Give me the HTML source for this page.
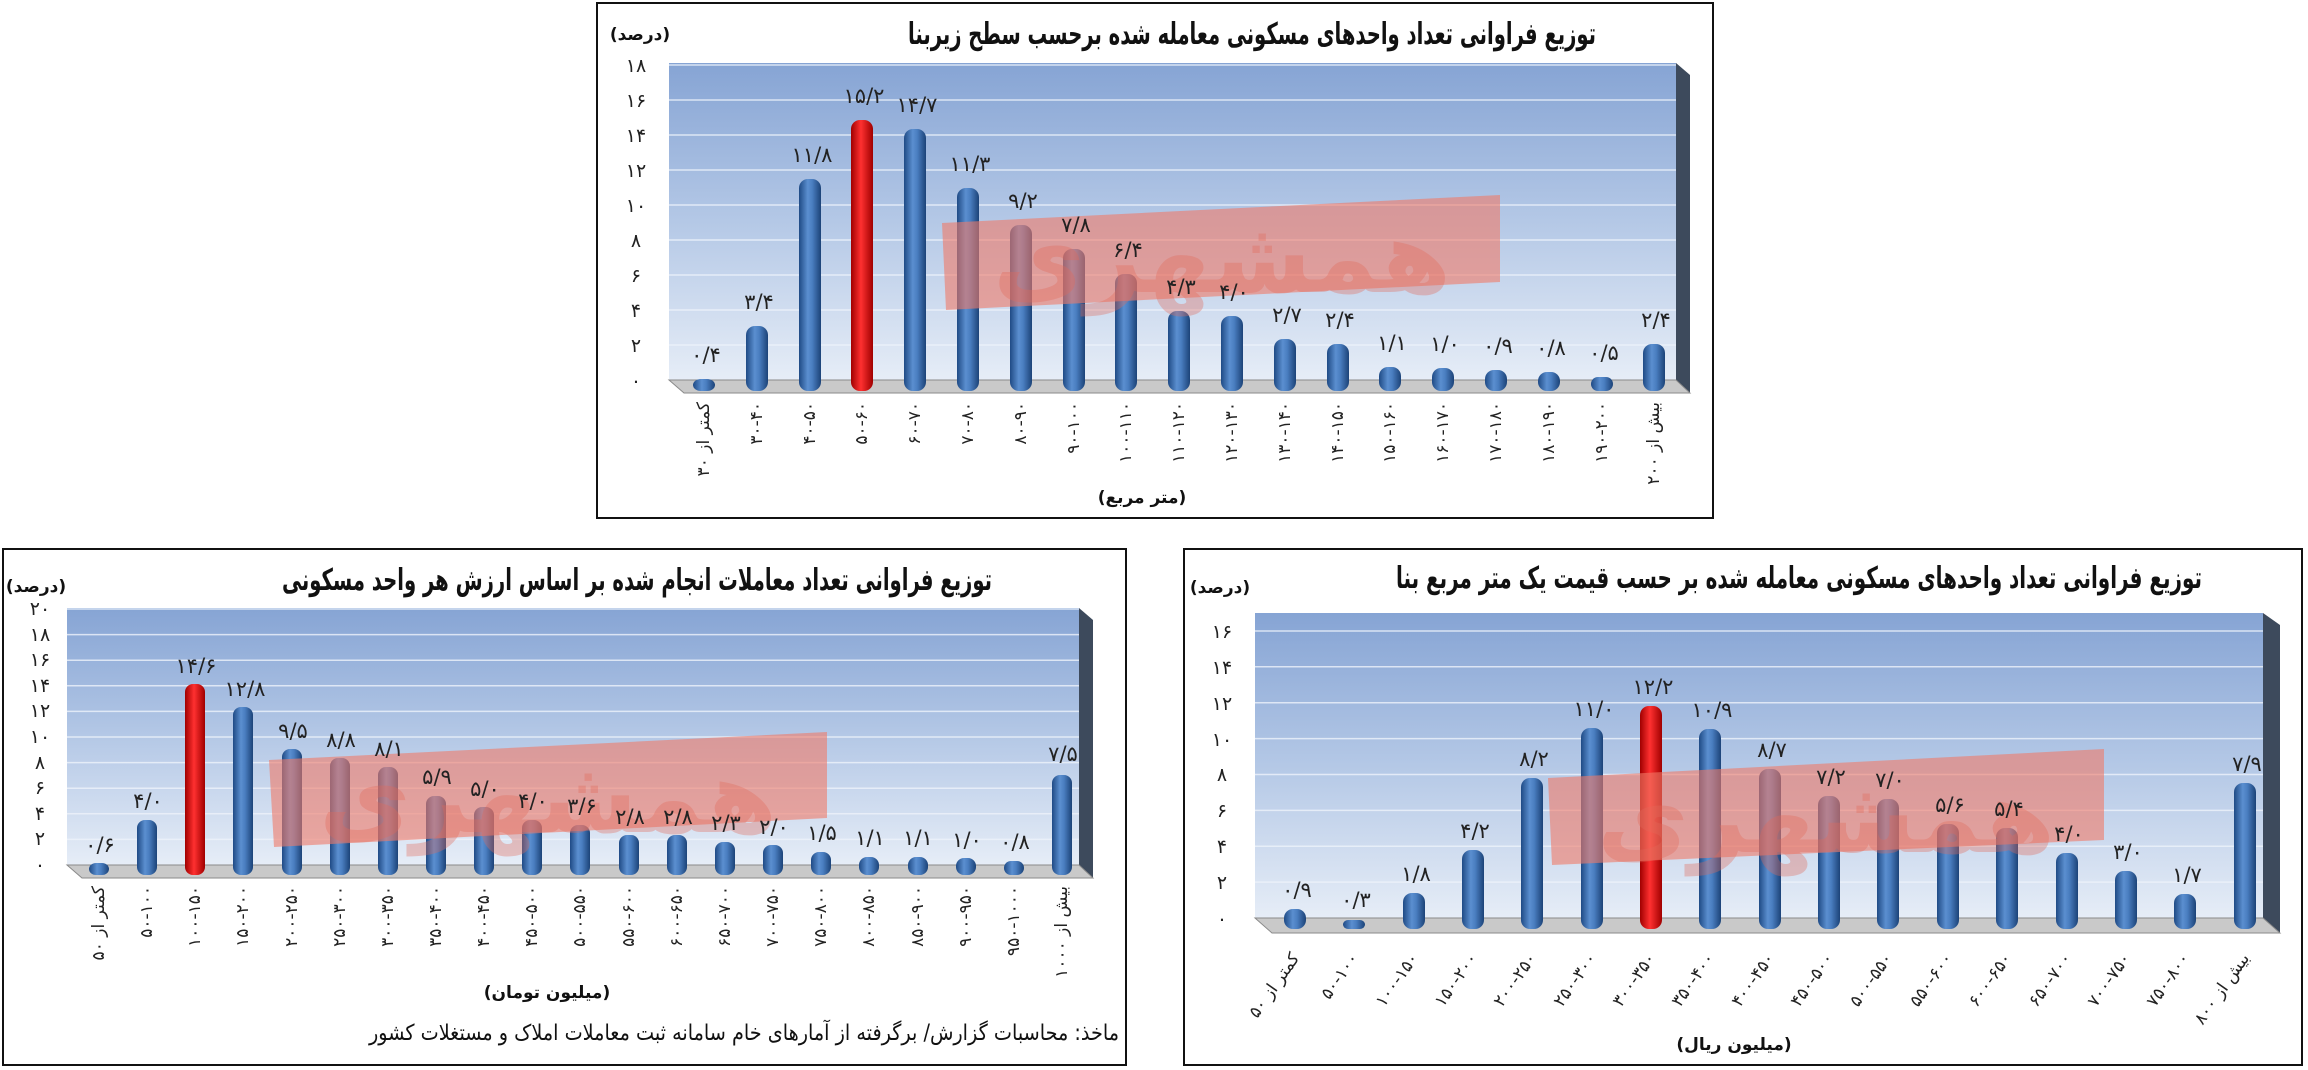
<!DOCTYPE html>
<html><head><meta charset="utf-8">
<style>
html,body{margin:0;padding:0;background:#fff;}
svg{display:block;font-family:"DejaVu Sans","Liberation Sans",sans-serif;}
.t{font-weight:bold;font-size:30px;fill:#111;}
.u{font-weight:bold;font-size:17px;fill:#111;}
.k{font-size:19px;fill:#222;}
.v{font-size:21px;fill:#222;}
.c{font-size:17px;fill:#222;}
</style></head>
<body>
<svg width="2308" height="1070" viewBox="0 0 2308 1070" xmlns="http://www.w3.org/2000/svg">
<defs>
<linearGradient id="bg" x1="0" y1="0" x2="0" y2="1">
<stop offset="0" stop-color="#86a4d4"/><stop offset="0.5" stop-color="#b4c8e6"/><stop offset="1" stop-color="#e6edf7"/>
</linearGradient>
<linearGradient id="bb" x1="0" y1="0" x2="1" y2="0">
<stop offset="0" stop-color="#1f4a85"/><stop offset="0.4" stop-color="#5b8fd0"/><stop offset="0.6" stop-color="#4a7ec0"/><stop offset="1" stop-color="#1c4378"/>
</linearGradient>
<linearGradient id="rb" x1="0" y1="0" x2="1" y2="0">
<stop offset="0" stop-color="#a00000"/><stop offset="0.45" stop-color="#ff3030"/><stop offset="1" stop-color="#a00000"/>
</linearGradient>
</defs>

<!-- ===== TOP CHART ===== -->
<rect x="597" y="3" width="1116" height="515" fill="#fff" stroke="#111" stroke-width="2"/>
<text class="t" x="1596" y="44" text-anchor="start" direction="rtl" textLength="688" lengthAdjust="spacingAndGlyphs">توزیع فراوانی تعداد واحدهای مسکونی معامله شده برحسب سطح زیربنا</text>
<text class="u" x="640" y="40" text-anchor="middle" direction="rtl">(درصد)</text>
<rect x="669" y="63" width="1007" height="317" fill="url(#bg)"/>
<polygon points="1676,63 1690,75 1690,393 1676,380" fill="#3d4a5c"/>
<polygon points="669,380 1676,380 1690,393 684,393" fill="#c9c9c9" stroke="#8a8a8a"/>
<g stroke="#eef3fb" stroke-width="1.5" opacity="0.8">
<line x1="669" y1="345" x2="1676" y2="345"/><line x1="669" y1="310" x2="1676" y2="310"/><line x1="669" y1="275" x2="1676" y2="275"/><line x1="669" y1="240" x2="1676" y2="240"/><line x1="669" y1="205" x2="1676" y2="205"/><line x1="669" y1="170" x2="1676" y2="170"/><line x1="669" y1="135" x2="1676" y2="135"/><line x1="669" y1="100" x2="1676" y2="100"/><line x1="669" y1="65" x2="1676" y2="65"/>
</g>
<g class="k" text-anchor="middle">
<text x="636" y="387">۰</text><text x="636" y="352">۲</text><text x="636" y="317">۴</text><text x="636" y="282">۶</text><text x="636" y="247">۸</text><text x="636" y="212">۱۰</text><text x="636" y="177">۱۲</text><text x="636" y="142">۱۴</text><text x="636" y="107">۱۶</text><text x="636" y="72">۱۸</text>
</g>
<g transform="translate(0,6)">
<rect x="693" y="373" width="22" height="12" rx="8" fill="url(#bb)"/>
<rect x="746" y="320" width="22" height="65" rx="9" fill="url(#bb)"/>
<rect x="799" y="173" width="22" height="212" rx="9" fill="url(#bb)"/>
<rect x="851" y="114" width="22" height="271" rx="9" fill="url(#rb)"/>
<rect x="904" y="123" width="22" height="262" rx="9" fill="url(#bb)"/>
<rect x="957" y="182" width="22" height="203" rx="9" fill="url(#bb)"/>
<rect x="1010" y="219" width="22" height="166" rx="9" fill="url(#bb)"/>
<rect x="1063" y="243" width="22" height="142" rx="9" fill="url(#bb)"/>
<rect x="1115" y="268" width="22" height="117" rx="9" fill="url(#bb)"/>
<rect x="1168" y="305" width="22" height="80" rx="9" fill="url(#bb)"/>
<rect x="1221" y="310" width="22" height="75" rx="9" fill="url(#bb)"/>
<rect x="1274" y="333" width="22" height="52" rx="9" fill="url(#bb)"/>
<rect x="1327" y="338" width="22" height="47" rx="9" fill="url(#bb)"/>
<rect x="1379" y="361" width="22" height="24" rx="9" fill="url(#bb)"/>
<rect x="1432" y="362" width="22" height="23" rx="9" fill="url(#bb)"/>
<rect x="1485" y="364" width="22" height="21" rx="9" fill="url(#bb)"/>
<rect x="1538" y="366" width="22" height="19" rx="9" fill="url(#bb)"/>
<rect x="1591" y="371" width="22" height="14" rx="7" fill="url(#bb)"/>
<rect x="1643" y="338" width="22" height="47" rx="9" fill="url(#bb)"/>
</g>
<polygon points="942,223 1500,195 1500,282 946,310" fill="#f07a68" opacity="0.6"/>
<text x="1222" y="292" font-size="100" font-weight="bold" fill="#e26a5a" opacity="0.35" text-anchor="middle" direction="rtl">همشهری</text>
<g class="v" text-anchor="middle">
<text x="706" y="362">۰/۴</text><text x="759" y="309">۳/۴</text><text x="812" y="162">۱۱/۸</text><text x="864" y="103">۱۵/۲</text><text x="917" y="112">۱۴/۷</text><text x="970" y="171">۱۱/۳</text><text x="1023" y="208">۹/۲</text><text x="1076" y="232">۷/۸</text><text x="1128" y="257">۶/۴</text><text x="1181" y="294">۴/۳</text><text x="1234" y="299">۴/۰</text><text x="1287" y="322">۲/۷</text><text x="1340" y="327">۲/۴</text><text x="1392" y="350">۱/۱</text><text x="1445" y="351">۱/۰</text><text x="1498" y="353">۰/۹</text><text x="1551" y="355">۰/۸</text><text x="1604" y="360">۰/۵</text><text x="1656" y="327">۲/۴</text>
</g>
<g class="c" direction="rtl" text-anchor="start" dominant-baseline="central">
<text transform="translate(704,402) rotate(-90)">کمتر از ۳۰</text>
<text transform="translate(757,402) rotate(-90)">۳۰-۴۰</text>
<text transform="translate(810,402) rotate(-90)">۴۰-۵۰</text>
<text transform="translate(862,402) rotate(-90)">۵۰-۶۰</text>
<text transform="translate(915,402) rotate(-90)">۶۰-۷۰</text>
<text transform="translate(968,402) rotate(-90)">۷۰-۸۰</text>
<text transform="translate(1021,402) rotate(-90)">۸۰-۹۰</text>
<text transform="translate(1074,402) rotate(-90)">۹۰-۱۰۰</text>
<text transform="translate(1126,402) rotate(-90)">۱۰۰-۱۱۰</text>
<text transform="translate(1179,402) rotate(-90)">۱۱۰-۱۲۰</text>
<text transform="translate(1232,402) rotate(-90)">۱۲۰-۱۳۰</text>
<text transform="translate(1285,402) rotate(-90)">۱۳۰-۱۴۰</text>
<text transform="translate(1338,402) rotate(-90)">۱۴۰-۱۵۰</text>
<text transform="translate(1390,402) rotate(-90)">۱۵۰-۱۶۰</text>
<text transform="translate(1443,402) rotate(-90)">۱۶۰-۱۷۰</text>
<text transform="translate(1496,402) rotate(-90)">۱۷۰-۱۸۰</text>
<text transform="translate(1549,402) rotate(-90)">۱۸۰-۱۹۰</text>
<text transform="translate(1602,402) rotate(-90)">۱۹۰-۲۰۰</text>
<text transform="translate(1654,402) rotate(-90)">بیش از ۲۰۰</text>
</g>
<text class="u" x="1142" y="503" text-anchor="middle" direction="rtl">(متر مربع)</text>

<!-- ===== BOTTOM LEFT ===== -->
<rect x="3" y="549" width="1123" height="516" fill="#fff" stroke="#111" stroke-width="2"/>
<text class="t" x="992" y="590" text-anchor="start" direction="rtl" textLength="710" lengthAdjust="spacingAndGlyphs">توزیع فراوانی تعداد معاملات انجام شده بر اساس ارزش هر واحد مسکونی</text>
<text class="u" x="36" y="592" text-anchor="middle" direction="rtl">(درصد)</text>
<rect x="67" y="608" width="1012" height="257" fill="url(#bg)"/>
<polygon points="1079,608 1093,620 1093,878 1079,865" fill="#3d4a5c"/>
<polygon points="67,865 1079,865 1093,878 82,878" fill="#c9c9c9" stroke="#8a8a8a"/>
<g stroke="#eef3fb" stroke-width="1.5" opacity="0.8">
<line x1="67" y1="839.4" x2="1079" y2="839.4"/><line x1="67" y1="813.8" x2="1079" y2="813.8"/><line x1="67" y1="788.2" x2="1079" y2="788.2"/><line x1="67" y1="762.6" x2="1079" y2="762.6"/><line x1="67" y1="737" x2="1079" y2="737"/><line x1="67" y1="711.4" x2="1079" y2="711.4"/><line x1="67" y1="685.8" x2="1079" y2="685.8"/><line x1="67" y1="660.2" x2="1079" y2="660.2"/><line x1="67" y1="634.6" x2="1079" y2="634.6"/><line x1="67" y1="609" x2="1079" y2="609"/>
</g>
<g class="k" text-anchor="middle" font-size="17">
<text x="40" y="871">۰</text><text x="40" y="845">۲</text><text x="40" y="820">۴</text><text x="40" y="794">۶</text><text x="40" y="769">۸</text><text x="40" y="743">۱۰</text><text x="40" y="717">۱۲</text><text x="40" y="692">۱۴</text><text x="40" y="666">۱۶</text><text x="40" y="641">۱۸</text><text x="40" y="615">۲۰</text>
</g>
<g transform="translate(0,6)">
<rect x="89" y="857" width="20" height="12" rx="7" fill="url(#bb)"/>
<rect x="137" y="814" width="20" height="55" rx="8" fill="url(#bb)"/>
<rect x="185" y="678" width="20" height="191" rx="8" fill="url(#rb)"/>
<rect x="233" y="701" width="20" height="168" rx="8" fill="url(#bb)"/>
<rect x="282" y="743" width="20" height="126" rx="8" fill="url(#bb)"/>
<rect x="330" y="752" width="20" height="117" rx="8" fill="url(#bb)"/>
<rect x="378" y="761" width="20" height="108" rx="8" fill="url(#bb)"/>
<rect x="426" y="790" width="20" height="79" rx="8" fill="url(#bb)"/>
<rect x="474" y="801" width="20" height="68" rx="8" fill="url(#bb)"/>
<rect x="522" y="814" width="20" height="55" rx="8" fill="url(#bb)"/>
<rect x="570" y="819" width="20" height="50" rx="8" fill="url(#bb)"/>
<rect x="619" y="829" width="20" height="40" rx="8" fill="url(#bb)"/>
<rect x="667" y="829" width="20" height="40" rx="8" fill="url(#bb)"/>
<rect x="715" y="836" width="20" height="33" rx="8" fill="url(#bb)"/>
<rect x="763" y="839" width="20" height="30" rx="8" fill="url(#bb)"/>
<rect x="811" y="846" width="20" height="23" rx="8" fill="url(#bb)"/>
<rect x="859" y="851" width="20" height="18" rx="8" fill="url(#bb)"/>
<rect x="908" y="851" width="20" height="18" rx="8" fill="url(#bb)"/>
<rect x="956" y="852" width="20" height="17" rx="8" fill="url(#bb)"/>
<rect x="1004" y="855" width="20" height="14" rx="7" fill="url(#bb)"/>
<rect x="1052" y="769" width="20" height="100" rx="8" fill="url(#bb)"/>
</g>
<polygon points="269,760 827,732 827,818 274,847" fill="#f07a68" opacity="0.6"/>
<text x="548" y="832" font-size="100" font-weight="bold" fill="#e26a5a" opacity="0.35" text-anchor="middle" direction="rtl">همشهری</text>
<g class="v" text-anchor="middle" font-size="19">
<text x="100" y="852">۰/۶</text><text x="148" y="808">۴/۰</text><text x="196" y="673">۱۴/۶</text><text x="245" y="696">۱۲/۸</text><text x="293" y="738">۹/۵</text><text x="341" y="747">۸/۸</text><text x="389" y="756">۸/۱</text><text x="437" y="784">۵/۹</text><text x="485" y="796">۵/۰</text><text x="533" y="808">۴/۰</text><text x="582" y="813">۳/۶</text><text x="630" y="824">۲/۸</text><text x="678" y="824">۲/۸</text><text x="726" y="830">۲/۳</text><text x="774" y="834">۲/۰</text><text x="822" y="840">۱/۵</text><text x="870" y="845">۱/۱</text><text x="918" y="845">۱/۱</text><text x="967" y="847">۱/۰</text><text x="1015" y="849">۰/۸</text><text x="1063" y="761">۷/۵</text>
</g>
<g class="c" font-size="16" direction="rtl" text-anchor="start" dominant-baseline="central">
<text transform="translate(99,886) rotate(-90)">کمتر از ۵۰</text>
<text transform="translate(147,886) rotate(-90)">۵۰-۱۰۰</text>
<text transform="translate(195,886) rotate(-90)">۱۰۰-۱۵۰</text>
<text transform="translate(243,886) rotate(-90)">۱۵۰-۲۰۰</text>
<text transform="translate(292,886) rotate(-90)">۲۰۰-۲۵۰</text>
<text transform="translate(340,886) rotate(-90)">۲۵۰-۳۰۰</text>
<text transform="translate(388,886) rotate(-90)">۳۰۰-۳۵۰</text>
<text transform="translate(436,886) rotate(-90)">۳۵۰-۴۰۰</text>
<text transform="translate(484,886) rotate(-90)">۴۰۰-۴۵۰</text>
<text transform="translate(532,886) rotate(-90)">۴۵۰-۵۰۰</text>
<text transform="translate(580,886) rotate(-90)">۵۰۰-۵۵۰</text>
<text transform="translate(629,886) rotate(-90)">۵۵۰-۶۰۰</text>
<text transform="translate(677,886) rotate(-90)">۶۰۰-۶۵۰</text>
<text transform="translate(725,886) rotate(-90)">۶۵۰-۷۰۰</text>
<text transform="translate(773,886) rotate(-90)">۷۰۰-۷۵۰</text>
<text transform="translate(821,886) rotate(-90)">۷۵۰-۸۰۰</text>
<text transform="translate(869,886) rotate(-90)">۸۰۰-۸۵۰</text>
<text transform="translate(918,886) rotate(-90)">۸۵۰-۹۰۰</text>
<text transform="translate(966,886) rotate(-90)">۹۰۰-۹۵۰</text>
<text transform="translate(1014,886) rotate(-90)">۹۵۰-۱۰۰۰</text>
<text transform="translate(1062,886) rotate(-90)">بیش از ۱۰۰۰</text>
</g>
<text class="u" x="547" y="998" text-anchor="middle" direction="rtl">(میلیون تومان)</text>
<text x="1119" y="1040" font-size="22" fill="#111" text-anchor="start" direction="rtl" textLength="750" lengthAdjust="spacingAndGlyphs">ماخذ: محاسبات گزارش/ برگرفته از آمارهای خام سامانه ثبت معاملات املاک و مستغلات کشور</text>

<!-- ===== BOTTOM RIGHT ===== -->
<rect x="1184" y="549" width="1118" height="516" fill="#fff" stroke="#111" stroke-width="2"/>
<text class="t" x="2202" y="588" text-anchor="start" direction="rtl" textLength="806" lengthAdjust="spacingAndGlyphs">توزیع فراوانی تعداد واحدهای مسکونی معامله شده بر حسب قیمت یک متر مربع بنا</text>
<text class="u" x="1220" y="593" text-anchor="middle" direction="rtl">(درصد)</text>
<rect x="1255" y="613" width="1008" height="305" fill="url(#bg)"/>
<polygon points="2263,613 2280,625 2280,933 2263,918" fill="#3d4a5c"/>
<polygon points="1255,918 2263,918 2280,933 1272,933" fill="#c9c9c9" stroke="#8a8a8a"/>
<g stroke="#eef3fb" stroke-width="1.5" opacity="0.8">
<line x1="1255" y1="882.1" x2="2263" y2="882.1"/><line x1="1255" y1="846.2" x2="2263" y2="846.2"/><line x1="1255" y1="810.4" x2="2263" y2="810.4"/><line x1="1255" y1="774.5" x2="2263" y2="774.5"/><line x1="1255" y1="738.6" x2="2263" y2="738.6"/><line x1="1255" y1="702.7" x2="2263" y2="702.7"/><line x1="1255" y1="666.8" x2="2263" y2="666.8"/><line x1="1255" y1="631" x2="2263" y2="631"/>
</g>
<g class="k" text-anchor="middle">
<text x="1222" y="925">۰</text><text x="1222" y="889">۲</text><text x="1222" y="853">۴</text><text x="1222" y="817">۶</text><text x="1222" y="781">۸</text><text x="1222" y="746">۱۰</text><text x="1222" y="710">۱۲</text><text x="1222" y="674">۱۴</text><text x="1222" y="638">۱۶</text>
</g>
<g transform="translate(0,7)">
<rect x="1284" y="902" width="22" height="20" rx="9" fill="url(#bb)"/>
<rect x="1343" y="913" width="22" height="9" rx="5" fill="url(#bb)"/>
<rect x="1403" y="886" width="22" height="36" rx="9" fill="url(#bb)"/>
<rect x="1462" y="843" width="22" height="79" rx="9" fill="url(#bb)"/>
<rect x="1521" y="771" width="22" height="151" rx="9" fill="url(#bb)"/>
<rect x="1581" y="721" width="22" height="201" rx="9" fill="url(#bb)"/>
<rect x="1640" y="699" width="22" height="223" rx="9" fill="url(#rb)"/>
<rect x="1699" y="722" width="22" height="200" rx="9" fill="url(#bb)"/>
<rect x="1759" y="762" width="22" height="160" rx="9" fill="url(#bb)"/>
<rect x="1818" y="789" width="22" height="133" rx="9" fill="url(#bb)"/>
<rect x="1877" y="792" width="22" height="130" rx="9" fill="url(#bb)"/>
<rect x="1937" y="817" width="22" height="105" rx="9" fill="url(#bb)"/>
<rect x="1996" y="821" width="22" height="101" rx="9" fill="url(#bb)"/>
<rect x="2056" y="846" width="22" height="76" rx="9" fill="url(#bb)"/>
<rect x="2115" y="864" width="22" height="58" rx="9" fill="url(#bb)"/>
<rect x="2174" y="887" width="22" height="35" rx="9" fill="url(#bb)"/>
<rect x="2234" y="776" width="22" height="146" rx="9" fill="url(#bb)"/>
</g>
<polygon points="1548,778 2104,749 2104,840 1552,865" fill="#f07a68" opacity="0.6"/>
<text x="1826" y="852" font-size="100" font-weight="bold" fill="#e26a5a" opacity="0.35" text-anchor="middle" direction="rtl">همشهری</text>
<g class="v" text-anchor="middle">
<text x="1297" y="897">۰/۹</text><text x="1356" y="907">۰/۳</text><text x="1416" y="881">۱/۸</text><text x="1475" y="838">۴/۲</text><text x="1534" y="766">۸/۲</text><text x="1594" y="716">۱۱/۰</text><text x="1653" y="694">۱۲/۲</text><text x="1712" y="717">۱۰/۹</text><text x="1772" y="757">۸/۷</text><text x="1831" y="784">۷/۲</text><text x="1890" y="787">۷/۰</text><text x="1950" y="812">۵/۶</text><text x="2009" y="816">۵/۴</text><text x="2069" y="841">۴/۰</text><text x="2128" y="859">۳/۰</text><text x="2187" y="882">۱/۷</text><text x="2247" y="771">۷/۹</text>
</g>
<g class="c" direction="rtl" text-anchor="start">
<text transform="translate(1300,958) rotate(-55)">کمتر از ۵۰</text>
<text transform="translate(1359,958) rotate(-55)">۵۰-۱۰۰</text>
<text transform="translate(1419,958) rotate(-55)">۱۰۰-۱۵۰</text>
<text transform="translate(1478,958) rotate(-55)">۱۵۰-۲۰۰</text>
<text transform="translate(1537,958) rotate(-55)">۲۰۰-۲۵۰</text>
<text transform="translate(1597,958) rotate(-55)">۲۵۰-۳۰۰</text>
<text transform="translate(1656,958) rotate(-55)">۳۰۰-۳۵۰</text>
<text transform="translate(1715,958) rotate(-55)">۳۵۰-۴۰۰</text>
<text transform="translate(1775,958) rotate(-55)">۴۰۰-۴۵۰</text>
<text transform="translate(1834,958) rotate(-55)">۴۵۰-۵۰۰</text>
<text transform="translate(1893,958) rotate(-55)">۵۰۰-۵۵۰</text>
<text transform="translate(1953,958) rotate(-55)">۵۵۰-۶۰۰</text>
<text transform="translate(2012,958) rotate(-55)">۶۰۰-۶۵۰</text>
<text transform="translate(2072,958) rotate(-55)">۶۵۰-۷۰۰</text>
<text transform="translate(2131,958) rotate(-55)">۷۰۰-۷۵۰</text>
<text transform="translate(2190,958) rotate(-55)">۷۵۰-۸۰۰</text>
<text transform="translate(2250,958) rotate(-55)">بیش از ۸۰۰</text>
</g>
<text class="u" x="1734" y="1050" text-anchor="middle" direction="rtl">(میلیون ریال)</text>
</svg>
</body></html>
